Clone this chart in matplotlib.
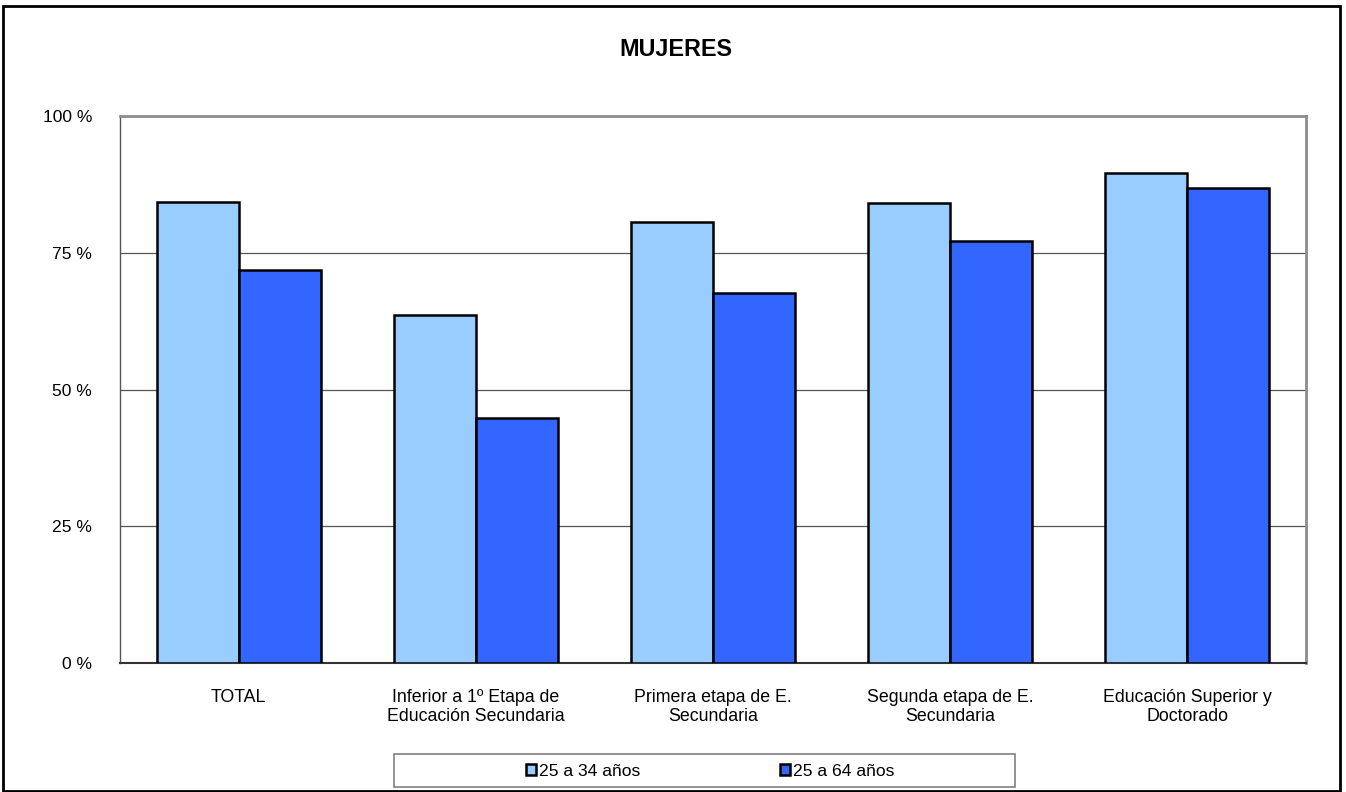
import matplotlib.pyplot as plt
from matplotlib.patches import Rectangle
import numpy as np

plt.rcParams['font.family'] = ['Liberation Sans', 'DejaVu Sans']

# data
categories = ["TOTAL",
              "Inferior a 1º Etapa de\nEducación Secundaria",
              "Primera etapa de E.\nSecundaria",
              "Segunda etapa de E.\nSecundaria",
              "Educación Superior y\nDoctorado"]
series_names = ["25 a 34 años", "25 a 64 años"]
valores_25_34 = [84.2, 63.6, 80.6, 84.1, 89.6]
valores_25_64 = [71.8, 44.7, 67.6, 77.1, 86.8]
y_ticks = [0, 25, 50, 75, 100]
y_tick_labels = ["0 %", "25 %", "50 %", "75 %", "100 %"]

W, H = 1346, 792
fig = plt.figure(figsize=(W / 100, H / 100), dpi=100)

# axes placed in pixel terms
ax = fig.add_axes([120 / W, 1 - 663 / H, (1306 - 120) / W, (663 - 116) / H])

x = np.arange(len(categories))
w = 0.346
ax.bar(x - w / 2, valores_25_34, w, color='#99CCFF', edgecolor='black',
       linewidth=1.8, label=series_names[0], zorder=3)
ax.bar(x + w / 2, valores_25_64, w, color='#3366FF', edgecolor='black',
       linewidth=1.8, label=series_names[1], zorder=3)

ax.set_xlim(-0.5, len(categories) - 0.5)
ax.set_ylim(0, 100)
ax.set_yticks(y_ticks)
ax.set_yticklabels(y_tick_labels)
ax.set_xticks(x)
ax.set_xticklabels(categories, linespacing=1.1)
ax.tick_params(axis='y', length=0, pad=20, labelsize=12.6)
ax.tick_params(axis='x', length=0, pad=19, labelsize=12.8)

# gridlines
for yv in y_ticks[1:-1]:
    ax.axhline(yv, color='#555555', linewidth=0.9, zorder=1)

for side in ['top', 'right']:
    ax.spines[side].set_color('#8c8c8c')
    ax.spines[side].set_linewidth(2)
ax.spines['left'].set_color('#555555')
ax.spines['left'].set_linewidth(1)
ax.spines['bottom'].set_color('#333333')
ax.spines['bottom'].set_linewidth(1.5)

fig.text(676 / W, 1 - 49 / H, "MUJERES", ha='center', va='center',
         fontsize=16.8, fontweight='bold')

# legend box
fig.patches.append(Rectangle((394 / W, 1 - 787 / H), (1015 - 394) / W, (787 - 754) / H,
                             transform=fig.transFigure, fill=False,
                             edgecolor='#808080', linewidth=1.2))
fig.legend(loc='center', bbox_to_anchor=(710 / W, 1 - 771 / H), ncol=2,
           frameon=False, fontsize=12.6, handlelength=0.6, handleheight=0.6,
           handletextpad=0.15, columnspacing=8.0, borderaxespad=0)

# outer border
fig.patches.append(Rectangle((3 / W, 1 / H), (1340 - 3) / W, (785 - 0) / H,
                             transform=fig.transFigure, fill=False,
                             edgecolor='black', linewidth=2))

fig.savefig("out.png", dpi=100)
